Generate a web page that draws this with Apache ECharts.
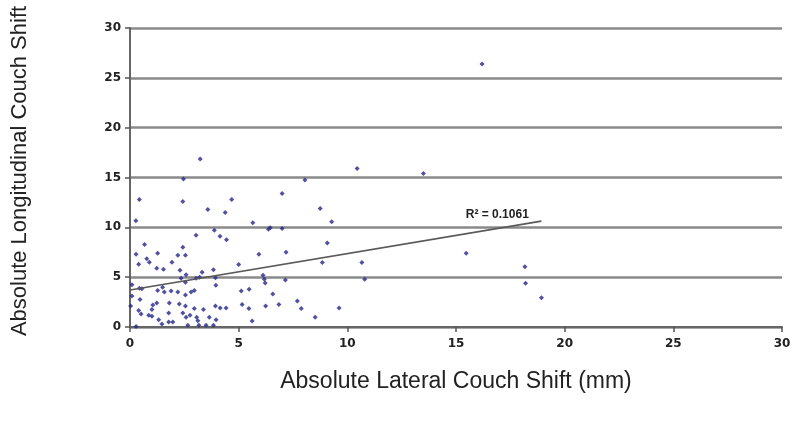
<!DOCTYPE html>
<html>
<head>
<meta charset="utf-8">
<script src="https://cdn.jsdelivr.net/npm/echarts@6/dist/echarts.min.js"></script>
<style>
html,body{margin:0;padding:0;background:#fff;}
#chart{width:795px;height:424px;}
</style>
</head>
<body>
<div id="chart"></div>
<script>
// Absolute lateral shift (mm)
const lateralShift = [
  3.23,2.46,8.05,0.43,2.43,7.0,4.68,3.58,4.38,8.75,0.27,5.65,9.28,6.37,6.45,7.0,3.04,3.88,4.14,4.44,10.45,13.5,16.2,
  0.67,0.28,0.4,1.27,0.77,0.89,2.43,2.2,2.55,1.93,
  1.23,1.54,2.3,2.58,3.32,3.84,3.93,3.95,2.35,2.55,3.04,3.2,0.09,0.43,0.55,0.09,1.27,1.5,1.58,1.89,2.2,2.81,2.96,2.55,
  0.46,1.23,0.03,1.05,1.01,1.81,2.27,2.55,2.96,3.38,3.93,4.15,4.42,0.4,0.51,0.86,1.01,1.32,1.78,2.43,2.58,2.76,3.07,3.12,3.65,3.96,
  1.47,1.78,1.97,2.66,3.17,3.5,3.84,0.28,
  5.0,5.93,7.18,9.08,8.85,6.12,6.18,6.22,7.15,5.12,5.48,6.57,5.16,5.47,6.24,6.85,7.7,7.88,9.62,8.52,5.62,
  10.67,10.8,15.47,18.17,18.2,18.93
];
// Absolute longitudinal shift (mm)
const longitudinalShift = [
  16.85,14.85,14.74,12.8,12.6,13.4,12.8,11.8,11.5,11.9,10.66,10.45,10.55,9.8,9.96,9.88,9.2,9.7,9.1,8.75,15.9,15.4,26.4,
  8.28,7.3,6.3,7.4,6.85,6.5,8.0,7.2,7.2,6.5,
  5.9,5.8,5.7,5.25,5.5,5.75,4.95,4.2,4.9,4.5,4.9,5.0,4.25,3.9,3.85,3.1,3.65,4.0,3.5,3.6,3.5,3.5,3.65,3.2,
  2.75,2.4,2.1,2.2,1.75,2.4,2.3,2.1,1.85,1.75,2.1,1.9,1.9,1.65,1.3,1.17,1.07,0.73,1.4,1.4,0.97,1.17,0.97,0.63,0.97,0.73,
  0.3,0.5,0.5,0.17,0.17,0.17,0.17,0.05,
  6.28,7.3,7.5,8.42,6.48,5.2,4.8,4.42,4.72,3.62,3.8,3.3,2.25,1.85,2.1,2.25,2.6,1.85,1.9,0.97,0.6,
  6.47,4.78,7.4,6.05,4.38,2.94
];
// Linear trendline end points as drawn
const trendX = [0, 18.93];
const trendY = [3.72, 10.62];
const trendLabel = 'R² = 0.1061';
const xTicks = [0, 5, 10, 15, 20, 25, 30];
const yTicks = [0, 5, 10, 15, 20, 25, 30];

const points = lateralShift.map((x, i) => [x, longitudinalShift[i]]);
const trend = trendX.map((x, i) => [x, trendY[i]]);

const chart = echarts.init(document.getElementById('chart'), null, {renderer: 'canvas'});
const tickFont = {fontFamily: 'DejaVu Sans', fontSize: 12, fontWeight: 'bold', color: '#222'};
chart.setOption({
  animation: false,
  backgroundColor: '#fff',
  grid: {left: 130, right: 13, top: 28, bottom: 97},
  xAxis: {
    type: 'value', min: xTicks[0], max: xTicks[xTicks.length - 1], interval: xTicks[1] - xTicks[0],
    name: 'Absolute Lateral Couch Shift (mm)', nameLocation: 'middle', nameGap: 43,
    nameTextStyle: {fontFamily: 'Liberation Sans', fontSize: 23, color: '#222'},
    axisLine: {show: true, lineStyle: {color: '#666', width: 2}},
    axisTick: {show: true, length: 5, inside: false, lineStyle: {color: '#555', width: 1.5}},
    axisLabel: Object.assign({margin: 11}, tickFont),
    splitLine: {show: false}
  },
  yAxis: {
    type: 'value', min: yTicks[0], max: yTicks[yTicks.length - 1], interval: yTicks[1] - yTicks[0],
    axisLine: {show: true, lineStyle: {color: '#666', width: 2}},
    axisTick: {show: true, length: 5, inside: false, lineStyle: {color: '#555', width: 1.5}},
    axisLabel: Object.assign({margin: 9}, tickFont),
    splitLine: {show: true, lineStyle: {color: '#8a8a8a', width: 2.5}}
  },
  graphic: [{
    type: 'text', x: 20, y: 171, rotation: Math.PI / 2,
    style: {text: 'Absolute Longitudinal Couch Shift', fontFamily: 'Liberation Sans', fontSize: 22,
      fill: '#222', textAlign: 'center', textVerticalAlign: 'middle'}
  }],
  series: [
    {
      type: 'scatter', data: points, symbol: 'diamond', symbolSize: 5,
      itemStyle: {color: '#25258a'}, z: 3
    },
    {
      type: 'line', data: trend, showSymbol: false, symbol: 'none',
      lineStyle: {color: '#5a5a5a', width: 1.6}, z: 4,
      markPoint: {
        symbol: 'circle', symbolSize: 1, itemStyle: {color: 'rgba(0,0,0,0)'},
        label: {show: true, formatter: trendLabel, position: 'inside',
          fontFamily: 'Liberation Sans', fontSize: 12, fontWeight: 'bold', color: '#222'},
        data: [{coord: [16.9, 11.25]}]
      }
    }
  ]
});
</script>
</body>
</html>
